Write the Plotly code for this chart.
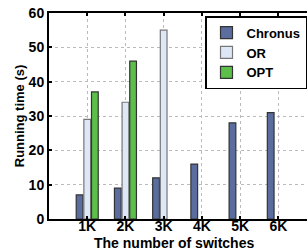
import plotly.graph_objects as go

categories = ["1K", "2K", "3K", "4K", "5K", "6K"]
x_pos = [1, 2, 3, 4, 5, 6]
chronus = [7, 9, 12, 16, 28, 31]
or_vals = [29, 34, 55, None, None, None]
opt_vals = [37, 46, None, None, None, None]
y_ticks = [0, 10, 20, 30, 40, 50, 60]

fig = go.Figure()
line = dict(color="#333333", width=1.2)
fig.add_trace(go.Bar(x=x_pos, y=chronus, name="Chronus", marker=dict(color="#5b6d9e", line=line)))
fig.add_trace(go.Bar(x=x_pos, y=or_vals, name="OR", marker=dict(color="#dde7f6", line=dict(color="#777777", width=1.2))))
fig.add_trace(go.Bar(x=x_pos, y=opt_vals, name="OPT", marker=dict(color="#5cbf4a", line=line)))

font = dict(family="Liberation Sans, Arial, sans-serif", color="black")
fig.update_layout(
    width=307, height=250,
    margin=dict(l=49, r=0, t=13, b=31),
    barmode="group", bargap=0.4, bargroupgap=0.12,
    plot_bgcolor="white", paper_bgcolor="white",
    font=font,
    showlegend=True,
    legend=dict(
        x=1.0, y=0.985, xanchor="right", yanchor="top",
        bgcolor="white", bordercolor="black", borderwidth=1.5,
        font=dict(family="Liberation Sans, Arial, sans-serif", size=13, color="black", weight="bold"),
        tracegroupgap=0, itemwidth=30,
    ),
    xaxis=dict(
        range=[0, 6.75], tickvals=x_pos, ticktext=categories,
        showline=True, linecolor="black", linewidth=2, mirror="ticks",
        ticks="inside", ticklen=3, tickcolor="black", tickwidth=1.5,
        showgrid=True, gridcolor="#bbbbbb", griddash="dot", gridwidth=1,
        tickfont=dict(size=14, weight="bold"),
        ticklabelstandoff=-7,
        zeroline=False,
    ),
    yaxis=dict(
        range=[0, 60], tickvals=y_ticks,
        showline=True, linecolor="black", linewidth=2,
        ticks="inside", ticklen=3, tickcolor="black", tickwidth=1.5,
        showgrid=True, gridcolor="#bbbbbb", griddash="dot", gridwidth=1,
        tickfont=dict(size=14, weight="bold"),
        title=dict(text="Running time (s)", font=dict(size=13, weight="bold"), standoff=1),
        zeroline=False,
    ),
    annotations=[dict(
        text="The number of switches", xref="paper", yref="paper",
        x=0.483, y=-0.117, xanchor="center", yanchor="middle", showarrow=False,
        font=dict(size=14, weight="bold", color="black"),
    )],
)

fig.write_html("out.html", config={"displayModeBar": False},
               post_script="document.body.style.margin='0';")
